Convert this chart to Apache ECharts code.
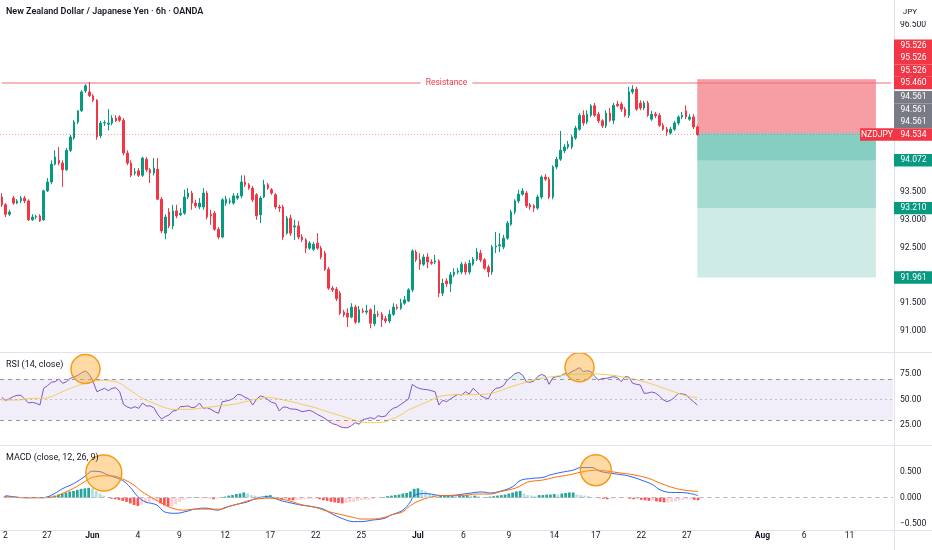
<!DOCTYPE html>
<html><head><meta charset="utf-8">
<script src="https://cdn.jsdelivr.net/npm/echarts@6/dist/echarts.min.js"></script>
<style>html,body{margin:0;padding:0;background:#fff}#c{width:932px;height:550px}</style>
</head><body><div id="c"></div>
<script>
// ---- data ----
// candles: [open, close, low, high]
const candles = [
[93.41,93.27,93.23,93.48],[93.27,93.10,93.05,93.30],[93.10,93.14,93.07,93.18],[93.39,93.30,93.27,93.43],
[93.30,93.34,93.28,93.37],[93.34,93.39,93.30,93.43],[93.39,93.34,93.30,93.43],[93.34,93.00,92.98,93.37],
[93.00,93.05,92.98,93.10],[93.05,93.06,93.01,93.09],[93.07,92.98,92.96,93.10],[93.00,93.52,92.98,93.54],
[93.52,93.68,93.50,93.75],[93.68,94.00,93.64,94.07],[94.00,94.13,93.98,94.25],[94.07,94.02,93.98,94.31],
[94.02,93.90,93.59,94.07],[93.90,94.25,93.88,94.29],[94.25,94.49,94.22,94.53],[94.47,94.76,94.44,94.79],
[94.76,94.96,94.72,94.97],[94.96,95.30,94.94,95.33],[95.32,95.41,95.28,95.44],[95.30,95.23,95.21,95.48],
[95.23,95.15,95.12,95.26],[95.15,94.49,94.44,95.17],[94.51,94.74,94.47,94.78],[94.74,94.75,94.69,94.79],
[94.72,94.74,94.61,94.99],[94.74,94.83,94.70,94.88],[94.83,94.78,94.76,94.88],[94.85,94.79,94.76,94.88],
[94.79,94.20,94.16,94.83],[94.20,94.02,93.98,94.25],[94.02,93.80,93.77,94.07],[93.84,93.86,93.80,93.93],
[93.88,93.80,93.77,93.93],[93.80,94.11,93.77,94.13],[94.09,93.90,93.86,94.13],[93.90,93.84,93.66,93.93],
[93.84,93.93,93.80,94.11],[93.91,93.37,93.36,94.11],[93.37,92.80,92.76,93.41],[92.76,93.05,92.65,93.10],
[93.14,92.89,92.85,93.21],[92.89,93.16,92.83,93.27],[93.16,93.07,93.03,93.27],[93.09,93.12,93.07,93.21],
[93.12,93.41,93.09,93.54],[93.41,93.48,93.37,93.57],[93.48,93.30,93.18,93.52],[93.30,93.25,93.21,93.36],
[93.23,93.30,93.19,93.39],[93.23,93.48,93.18,93.57],[93.48,93.05,93.01,93.52],[93.10,93.07,92.91,93.18],
[93.12,92.83,92.80,93.16],[92.83,92.69,92.65,92.87],[92.69,93.36,92.67,93.39],[93.30,93.37,93.25,93.43],
[93.32,93.34,93.28,93.39],[93.30,93.43,93.27,93.48],[93.39,93.43,93.36,93.48],[93.43,93.68,93.39,93.80],
[93.68,93.63,93.59,93.80],[93.63,93.57,93.54,93.66],[93.57,93.36,93.32,93.61],[93.45,93.07,93.00,93.48],
[93.09,93.39,92.94,93.43],[93.41,93.63,93.39,93.72],[93.63,93.57,93.54,93.66],[93.54,93.48,93.45,93.57],
[93.45,93.23,93.19,93.48],[93.23,93.21,93.14,93.27],[93.23,92.69,92.64,93.27],[92.76,93.03,92.73,93.07],
[93.03,92.76,92.71,93.09],[92.87,92.89,92.64,93.00],[92.89,92.69,92.65,92.98],[92.69,92.64,92.60,92.74],
[92.64,92.49,92.40,92.67],[92.49,92.58,92.46,92.62],[92.47,92.56,92.44,92.60],[92.58,92.49,92.46,92.76],
[92.49,92.33,92.29,92.53],[92.40,92.11,92.08,92.44],[92.11,91.77,91.74,92.15],[91.77,91.74,91.70,91.81],
[91.75,91.58,91.54,91.79],[91.68,91.32,91.29,91.72],[91.34,91.29,91.25,91.38],[91.32,91.25,91.07,91.41],
[91.25,91.43,91.23,91.50],[91.43,91.16,91.13,91.47],[91.16,91.38,91.14,91.45],[91.36,91.34,91.32,91.41],
[91.34,91.36,91.30,91.47],[91.38,91.14,91.05,91.41],[91.13,91.30,91.09,91.47],[91.30,91.29,91.25,91.36],
[91.30,91.20,91.07,91.34],[91.22,91.18,91.14,91.27],[91.18,91.30,91.14,91.38],[91.30,91.43,91.27,91.50],
[91.43,91.41,91.38,91.48],[91.41,91.50,91.38,91.58],[91.50,91.56,91.47,91.63],[91.54,91.74,91.52,91.77],
[91.74,92.44,91.70,92.47],[92.42,92.28,92.24,92.46],[92.28,92.20,92.10,92.40],[92.20,92.33,92.17,92.38],
[92.33,92.24,92.13,92.40],[92.24,92.22,92.19,92.29],[92.24,92.26,92.20,92.37],[92.26,91.68,91.61,92.29],
[91.68,91.86,91.63,91.94],[91.90,91.85,91.79,91.95],[91.85,92.01,91.70,92.06],[92.01,92.06,91.97,92.13],
[92.06,92.08,92.02,92.13],[92.06,92.20,92.02,92.24],[92.20,92.06,92.01,92.24],[92.06,92.22,92.02,92.28],
[92.20,92.29,92.17,92.33],[92.29,92.42,92.26,92.49],[92.40,92.28,92.24,92.46],[92.28,92.13,92.10,92.31],
[92.15,92.06,91.97,92.19],[92.06,92.51,92.01,92.55],[92.51,92.53,92.40,92.78],[92.53,92.55,92.42,92.76],
[92.51,92.67,92.47,92.73],[92.67,92.94,92.64,92.98],[92.92,93.14,92.89,93.18],[93.14,93.34,93.10,93.37],
[93.34,93.46,93.30,93.54],[93.46,93.52,93.43,93.57],[93.48,93.25,93.21,93.52],[93.27,93.23,93.18,93.30],
[93.25,93.21,93.14,93.28],[93.21,93.41,93.18,93.45],[93.41,93.77,93.37,93.80],[93.77,93.73,93.70,93.82],
[93.73,93.41,93.37,93.77],[93.41,93.95,93.37,93.98],[93.95,94.09,93.91,94.13],[94.09,94.25,94.06,94.60],
[94.24,94.31,94.20,94.36],[94.31,94.36,94.27,94.42],[94.31,94.49,94.27,94.53],[94.47,94.65,94.44,94.69],
[94.63,94.88,94.60,94.92],[94.88,94.74,94.69,94.97],[94.76,94.90,94.72,94.97],[94.88,95.05,94.85,95.08],
[95.05,94.88,94.85,95.10],[94.90,94.78,94.74,94.94],[94.78,94.69,94.65,94.81],[94.69,94.92,94.65,94.97],
[94.92,94.79,94.76,95.01],[94.79,95.06,94.72,95.10],[95.08,95.05,95.03,95.14],[95.08,94.99,94.94,95.12],
[94.99,94.88,94.85,95.03],[94.88,95.30,94.83,95.39],[95.30,95.35,95.26,95.42],[95.35,94.99,94.96,95.39],
[95.10,95.01,94.97,95.15],[95.01,95.10,94.97,95.14],[95.10,94.88,94.85,95.14],[94.81,94.90,94.78,94.96],
[94.90,94.87,94.83,94.94],[94.88,94.70,94.67,94.92],[94.70,94.63,94.60,94.74],[94.63,94.58,94.51,94.67],
[94.56,94.63,94.53,94.67],[94.63,94.74,94.60,94.78],[94.74,94.85,94.70,94.88],[94.85,94.88,94.81,94.94],
[94.96,94.85,94.81,95.06],[94.81,94.85,94.78,94.90],[94.85,94.67,94.63,94.90],[94.67,94.534,94.51,94.70]
];

const rsi = [
52.1,48.9,50.8,52.8,54.1,54.1,50.5,46.6,47.2,46.3,44.6,60.9,63.5,66.8,67.4,70.0,65.8,67.4,70.6,71.9,
73.6,76.2,77.8,74.6,67.4,57.6,59.3,60.9,58.6,60.9,61.5,57.6,45.3,42.7,41.4,43.0,41.4,46.6,43.7,43.7,
42.0,35.5,31.0,33.3,34.9,38.8,39.4,43.0,43.3,43.7,42.0,42.7,46.6,41.4,42.0,40.4,38.1,36.5,47.9,48.5,
49.5,51.1,55.0,54.4,52.1,50.5,44.6,50.2,53.4,52.4,49.8,47.2,46.3,38.8,42.7,42.4,40.7,40.7,39.8,38.1,
38.8,39.4,37.8,35.5,33.6,31.6,28.7,26.4,25.4,23.5,22.5,22.5,24.5,27.4,25.8,30.3,31.3,32.3,31.0,34.2,
33.2,33.9,38.8,41.4,42.7,45.3,47.9,50.5,64.8,62.2,60.6,59.9,59.6,58.6,57.6,44.6,49.2,47.9,50.5,52.8,
55.0,54.4,57.6,55.4,60.9,57.6,53.7,51.8,50.5,57.6,60.9,61.5,63.5,69.0,71.9,75.2,76.5,73.9,67.4,66.8,
68.0,72.3,74.6,72.9,64.8,71.3,72.3,72.9,75.2,74.9,77.2,79.1,81.1,77.2,78.1,77.2,72.6,69.0,70.6,70.6,
71.6,72.3,71.3,67.4,72.3,71.9,65.8,64.8,64.1,56.0,56.3,57.3,56.3,53.4,49.8,47.9,49.2,52.1,56.0,55.4,
54.7,51.1,47.9,44.6
];

// [bar index, value] pairs
const rsiMA = [[0,49.5],[4,49.5],[8,51.1],[11,51.1],[13,52.8],[15,56.0],[18,60.9],[21,64.8],[23,66.8],[25,68.4],[27,68.7],
[29,68.0],[31,65.8],[33,60.9],[35,56.0],[37,51.1],[40,46.3],[43,42.0],[45,40.4],[49,40.4],[52,41.4],[57,43.7],[61,45.3],
[64,47.9],[66,49.5],[68,51.1],[70,52.0],[74,49.5],[77,47.2],[79,45.3],[83,41.4],[87,36.5],[92,31.0],[94,28.4],[97,27.4],
[100,27.7],[102,30.0],[105,34.9],[107,39.8],[110,44.6],[113,49.5],[115,52.8],[118,54.4],[120,55.0],[124,54.8],[128,55.5],
[131,58.5],[134,62.5],[138,66.8],[142,70.6],[147,73.3],[151,74.6],[156,74.9],[160,73.9],[164,71.6],[169,67.4],[173,62.5],
[178,56.0],[180,53.7],[183,51.8]];

const macdLine = [[0,0.04],[2,0.02],[5,0.00],[7,0.00],[10,0.00],[13,0.08],[15,0.17],[18,0.27],[21,0.41],[23,0.51],[25,0.50],
[27,0.44],[29,0.39],[31,0.33],[33,0.20],[35,0.02],[37,-0.08],[40,-0.14],[42,-0.27],[45,-0.30],[48,-0.26],[50,-0.22],[53,-0.20],
[56,-0.24],[58,-0.19],[61,-0.13],[64,-0.08],[66,-0.02],[69,0.02],[71,-0.01],[73,-0.06],[76,-0.11],[78,-0.14],[81,-0.17],
[84,-0.22],[86,-0.30],[89,-0.40],[92,-0.46],[94,-0.46],[97,-0.43],[100,-0.40],[102,-0.33],[105,-0.24],[107,-0.08],[108,0.04],
[111,0.08],[114,0.05],[116,0.04],[119,0.05],[122,0.08],[126,0.11],[128,0.09],[131,0.13],[134,0.21],[136,0.33],[139,0.37],
[142,0.39],[144,0.44],[147,0.49],[150,0.53],[152,0.58],[155,0.58],[157,0.51],[160,0.47],[163,0.44],[165,0.41],[168,0.34],
[171,0.25],[173,0.15],[176,0.10],[178,0.10],[181,0.08],[183,0.04]];

const signalLine = [[0,0.02],[5,0.00],[10,0.00],[13,0.02],[15,0.08],[18,0.18],[21,0.31],[23,0.39],[26,0.42],[28,0.42],[31,0.36],
[34,0.24],[36,0.12],[39,-0.01],[42,-0.13],[44,-0.20],[47,-0.24],[50,-0.22],[53,-0.22],[57,-0.22],[59,-0.17],[62,-0.11],
[64,-0.06],[67,-0.02],[70,-0.01],[72,-0.02],[75,-0.06],[78,-0.13],[82,-0.19],[85,-0.26],[89,-0.33],[92,-0.38],[94,-0.41],
[97,-0.41],[100,-0.38],[102,-0.33],[105,-0.27],[107,-0.15],[110,-0.04],[113,0.02],[115,0.04],[118,0.04],[122,0.05],[124,0.07],
[128,0.07],[131,0.12],[135,0.19],[138,0.30],[142,0.34],[145,0.39],[149,0.44],[152,0.49],[156,0.53],[159,0.51],[163,0.47],
[166,0.44],[170,0.37],[173,0.28],[177,0.18],[180,0.14],[183,0.12]];

const hist = [
0.03,0.02,0.01,0.01,0.00,0.00,-0.01,0.00,0.01,0.00,0.01,0.02,
0.02,0.04,0.06,0.08,0.10,0.12,0.13,0.15,0.17,0.18,0.19,
0.18,0.13,0.08,0.04,0.00,
-0.02,-0.03,-0.04,-0.06,-0.08,-0.11,-0.14,-0.16,
-0.13,-0.10,-0.08,-0.06,-0.05,
-0.11,-0.15,-0.17,-0.17,
-0.13,-0.08,-0.04,-0.02,
0.00,0.01,0.00,-0.01,0.00,
-0.01,-0.03,-0.02,0.01,
0.02,0.04,0.05,0.07,0.08,0.10,
0.08,0.05,0.04,0.02,0.01,
0.04,0.05,0.02,0.00,
-0.03,-0.03,-0.04,-0.05,-0.04,
-0.04,-0.03,-0.03,-0.03,-0.02,
-0.03,-0.05,-0.06,-0.08,-0.09,-0.10,-0.11,
-0.10,-0.09,-0.08,-0.06,-0.05,-0.04,-0.04,-0.03,-0.01,-0.01,
0.01,0.03,0.04,0.05,0.06,0.08,0.09,0.12,0.17,0.18,
0.15,0.12,0.08,0.05,
0.02,0.04,0.04,0.04,0.04,0.03,0.04,0.04,0.05,0.04,
0.04,0.03,0.01,0.01,
0.02,0.03,0.04,0.05,0.06,0.08,0.10,0.12,0.13,
0.08,0.05,0.04,0.03,
0.05,0.05,0.06,0.06,0.07,
0.06,0.08,0.09,0.10,0.10,
0.06,0.05,0.04,0.03,0.01,0.00,
-0.01,-0.02,-0.03,-0.02,-0.01,
-0.01,-0.01,-0.01,
-0.02,-0.03,-0.03,-0.04,-0.05,-0.06,-0.06,-0.07,-0.08,-0.09,-0.09,
-0.08,-0.07,-0.05,-0.04,-0.03,-0.03,
-0.04,-0.05
];

const dateTicks = [[0,'2'],[11,'27'],[23,'Jun'],[35,'4'],[46,'9'],[58,'12'],[70,'17'],[82,'22'],[94,'25'],[109,'Jul'],
[121,'6'],[133,'9'],[145,'14'],[156,'17'],[168,'22'],[180,'27'],[200,'Aug'],[211,'6'],[223,'11']];
const monthNames = ['Jun','Jul','Aug'];
const futureBars = 51;

const resistance = 95.460;
const lastPrice = 94.534;
const entry = 94.561;
const stopLoss = 95.526;
const targets = [94.072, 93.210, 91.961];
const boxFromBar = 183, boxToBar = 230;
const rsiCircles = [[22,79.8],[152,81.5]];
const macdCircles = [[26,0.475],[156,0.53]];

// ---- chart ----
const RED='#f23645', GREEN='#089981', GREY='#787b86', TXT='#131722', SEP='#e0e3eb';
const RES_LINE='#ec6f7c';
const FONT='Roboto, "Liberation Sans", Arial, sans-serif';
const nCat = candles.length + futureBars;
const cats = Array.from({length:nCat},(_,i)=>String(i));
const tickMap = {}; dateTicks.forEach(([i,t])=>tickMap[i]=t);

const histData = hist.map((v,i)=>{
  const p = i>0 ? hist[i-1] : v;
  const c = v>=0 ? (v>=p ? '#26a69a' : '#b2dfdb') : (v<p ? '#ff5252' : '#ffcdd2');
  return {value:v, itemStyle:{color:c}};
});

const gridBase = {left:0, right:39};
const circleStyle = {color:'rgba(255,167,38,0.42)', borderColor:'#f59c1a', borderWidth:1.5};

const chart = echarts.init(document.getElementById('c'), null, {renderer:'canvas'});
const xAx = (gi, show) => ({
  type:'category', gridIndex:gi, data:cats, boundaryGap:true,
  axisLine:{show:false}, axisTick:{show:false}, splitLine:{show:false},
  axisLabel: show ? {
    show:true, interval:0, margin:8, fontSize:8.5, color:TXT, fontFamily:FONT,
    formatter:(v,idx)=>{const t=tickMap[idx]; if(!t) return ''; return monthNames.includes(t)?'{m|'+t+'}':t;},
    rich:{m:{fontWeight:'bold', fontSize:8.5, color:TXT, fontFamily:FONT}}
  } : {show:false}
});
const yLab = fmt => ({fontSize:8.5, color:TXT, fontFamily:FONT, margin:7, formatter:fmt});

chart.setOption({
  animation:false,
  backgroundColor:'#fff',
  grid:[
    Object.assign({top:25.2, height:305.8}, gridBase),
    Object.assign({top:348.25, height:102.5}, gridBase),
    Object.assign({top:445.7, height:78}, gridBase)
  ],
  xAxis:[xAx(0,false), xAx(1,false), xAx(2,true)],
  yAxis:[
    {type:'value', gridIndex:0, position:'right', min:91, max:96.5, interval:0.5, scale:true,
     axisLine:{show:false}, axisTick:{show:false}, splitLine:{show:false}, axisLabel:yLab(v=>v.toFixed(3))},
    {type:'value', gridIndex:1, position:'right', min:0, max:100, interval:25,
     axisLine:{show:false}, axisTick:{show:false}, splitLine:{show:false},
     axisLabel:Object.assign(yLab(v=>v.toFixed(2)),{showMinLabel:false, showMaxLabel:false})},
    {type:'value', gridIndex:2, position:'right', min:-0.5, max:1.0, interval:0.5,
     axisLine:{show:false}, axisTick:{show:false}, splitLine:{show:false},
     axisLabel:Object.assign(yLab(v=>(v<0?'\u2212':'')+Math.abs(v).toFixed(3)),{showMaxLabel:false})}
  ],
  series:[
    {type:'line', name:'Resistance', xAxisIndex:0, yAxisIndex:0, silent:true, symbol:'none', z:1,
     data:[[0,resistance],[nCat-1,resistance]],
     lineStyle:{color:RES_LINE, width:1, type:'solid'}},
    {type:'candlestick', xAxisIndex:0, yAxisIndex:0, data:candles, barWidth:2, z:3,
     itemStyle:{color:GREEN, color0:RED, borderColor:GREEN, borderColor0:RED, borderWidth:1},
     markArea:{silent:true, data:[
       ...targets.map(t=>[{xAxis:boxFromBar, yAxis:entry, itemStyle:{color:'rgba(8,153,129,0.2)'}},{xAxis:boxToBar, yAxis:t}]),
       ...targets.map(()=>[{xAxis:boxFromBar, yAxis:stopLoss, itemStyle:{color:'rgba(242,54,69,0.2)'}},{xAxis:boxToBar, yAxis:entry}])
     ]},
     markLine:{silent:true, symbol:['none','none'], label:{show:false},
       lineStyle:{color:'rgba(242,54,69,0.45)', width:1, type:[1,2]},
       data:[{yAxis:lastPrice}]}
    },
    {type:'line', name:'ob', xAxisIndex:1, yAxisIndex:1, data:rsi.map(v=>Math.max(v,70)), symbol:'none',
     lineStyle:{opacity:0}, areaStyle:{origin:70, color:'rgba(8,153,129,0.16)'}, silent:true},
    {type:'line', name:'os', xAxisIndex:1, yAxisIndex:1, data:rsi.map(v=>Math.min(v,30)), symbol:'none',
     lineStyle:{opacity:0}, areaStyle:{origin:30, color:'rgba(242,54,69,0.16)'}, silent:true},
    {type:'line', name:'RSI', xAxisIndex:1, yAxisIndex:1, data:rsi, symbol:'none',
     lineStyle:{color:'#7e57c2', width:1},
     markArea:{silent:true, itemStyle:{color:'rgba(126,87,194,0.1)'}, data:[[{yAxis:30},{yAxis:70}]]},
     markLine:{silent:true, symbol:['none','none'], label:{show:false}, data:[
       {yAxis:70, lineStyle:{color:'#9598a1', width:1, type:[4,4]}},
       {yAxis:50, lineStyle:{color:'rgba(149,152,161,0.55)', width:1, type:[2,3]}},
       {yAxis:30, lineStyle:{color:'#9598a1', width:1, type:[4,4]}}
     ]}
    },
    {type:'line', name:'RSI MA', xAxisIndex:1, yAxisIndex:1, data:rsiMA, symbol:'none', smooth:0.4,
     lineStyle:{color:'#f3cd55', width:1}, z:4,
     markPoint:{silent:true, symbol:'circle', symbolSize:29, itemStyle:circleStyle, label:{show:false},
       data:rsiCircles.map(c=>({coord:c}))}
    },
    {type:'bar', name:'Histogram', xAxisIndex:2, yAxisIndex:2, data:histData, barWidth:'72%',
     markLine:{silent:true, symbol:['none','none'], label:{show:false}, data:[
       {yAxis:0, lineStyle:{color:'#b2b5be', width:1, type:[4,4]}}]}
    },
    {type:'line', name:'MACD', xAxisIndex:2, yAxisIndex:2, data:macdLine, symbol:'none', smooth:0.4,
     lineStyle:{color:'#2962ff', width:1}},
    {type:'line', name:'Signal', xAxisIndex:2, yAxisIndex:2, data:signalLine, symbol:'none', smooth:0.4,
     lineStyle:{color:'#ff6d00', width:1}, z:4,
     markPoint:{silent:true, symbol:'circle', symbolSize:33, itemStyle:circleStyle, label:{show:false},
       data:macdCircles.map((c,k)=>({coord:c, symbolSize:k===0?36:31}))}
    }
  ]
});

// ---- overlay: labels, price tags, separators ----
const yOf = p => chart.convertToPixel({yAxisIndex:0}, p);
const gridRight = 932 - gridBase.right;
const g = [];
const txt = (x,y,text,o) => Object.assign({type:'text', z:100, style:Object.assign({x,y,text,fill:TXT,fontSize:9,fontFamily:FONT,verticalAlign:'middle'},o||{})});

// separators
[352.5,445.5,530.5].forEach(y=>g.push({type:'line', z:90, shape:{x1:0,y1:y,x2:932,y2:y}, style:{stroke:SEP, lineWidth:1}}));
g.push({type:'line', z:90, shape:{x1:gridRight+1.5,y1:0,x2:gridRight+1.5,y2:550}, style:{stroke:SEP, lineWidth:1}});
// header cover + currency
g.push({type:'rect', z:95, shape:{x:gridRight+2,y:0,width:40,height:21}, style:{fill:'#fff'}});
g.push(txt(910,12,'JPY',{fontSize:8,align:'center'}));
// titles
g.push(txt(6,12,'New Zealand Dollar / Japanese Yen \u00b7 6h \u00b7 OANDA',{fontWeight:600}));
g.push(txt(6,365,'RSI (14, close)'));
g.push(txt(6,458,'MACD (close, 12, 26, 9)'));
// resistance label on the line
g.push(txt(gridRight/2, yOf(resistance), 'Resistance', {align:'center', fill:RED, fontSize:8.5, backgroundColor:'#fff', padding:[1,5]}));

// price tags (stacked like the reference)
const tagH = 12.4;
const tags = [];
let prevY = yOf(lastPrice);
tags.push({p:lastPrice, c:RED, y:prevY});
[{p:entry,c:GREY},{p:entry,c:GREY},{p:entry,c:GREY},{p:resistance,c:RED},{p:stopLoss,c:RED},{p:stopLoss,c:RED},{p:stopLoss,c:RED}]
  .forEach(t=>{const y=Math.min(yOf(t.p), prevY-tagH); tags.push(Object.assign({y},t)); prevY=y;});
targets.forEach(p=>tags.push({p, c:GREEN, y:yOf(p)}));
tags.forEach(t=>{
  g.push({type:'rect', z:96, shape:{x:gridRight+1,y:t.y-tagH/2,width:40,height:tagH}, style:{fill:t.c}});
  g.push(txt(gridRight+7.5, t.y, t.p.toFixed(3), {fill:'#fff', fontSize:8.5}));
});
// symbol tag beside last price
const ly = yOf(lastPrice);
g.push({type:'rect', z:96, shape:{x:gridRight-33,y:ly-tagH/2,width:34,height:tagH}, style:{fill:RED}});
g.push(txt(gridRight-16, ly, 'NZDJPY', {fill:'#fff', fontSize:8.5, align:'center'}));

chart.setOption({graphic:g});
</script>
</body></html>
